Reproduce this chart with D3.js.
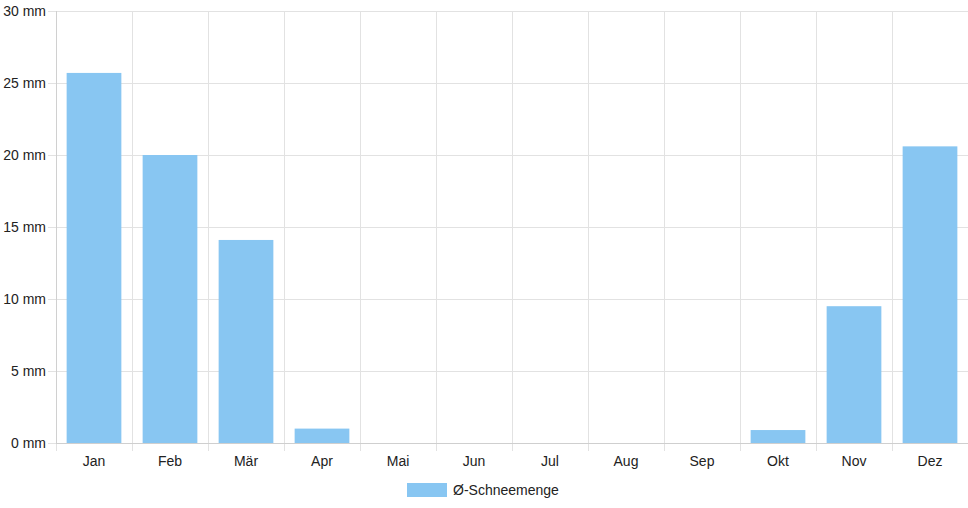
<!DOCTYPE html>
<html>
<head>
<meta charset="utf-8">
<script src="https://cdn.jsdelivr.net/npm/d3@7"></script>
<style>
  body { margin: 0; background: #fff; }
  svg { display: block; font-family: "Liberation Sans", Arial, sans-serif; }
</style>
</head>
<body>
<script>
// data
const months = ["Jan", "Feb", "Mär", "Apr", "Mai", "Jun", "Jul", "Aug", "Sep", "Okt", "Nov", "Dez"];
const snow = [25.7, 20.0, 14.1, 1.0, 0, 0, 0, 0, 0, 0.9, 9.5, 20.6];
const yTicks = [0, 5, 10, 15, 20, 25, 30];
const seriesName = "Ø-Schneemenge";

const width = 968, height = 508;
const margin = { top: 11, right: 0, bottom: 65, left: 56 };
const barColor = "#88c6f2";
const gridColor = "#e2e2e2";

const svg = d3.select("body").append("svg")
  .attr("width", width)
  .attr("height", height);

const x = d3.scaleBand()
  .domain(months)
  .range([margin.left, width - margin.right]);

const y = d3.scaleLinear()
  .domain([0, 30])
  .range([height - margin.bottom, margin.top]);

const x0 = margin.left, x1 = width - margin.right;
const yBottom = y(0);

// horizontal grid + left ticks
svg.append("g")
  .selectAll("line")
  .data(yTicks)
  .enter()
  .append("line")
  .attr("x1", x0 - 8)
  .attr("x2", x1)
  .attr("y1", d => Math.round(y(d)) + 0.5)
  .attr("y2", d => Math.round(y(d)) + 0.5)
  .attr("stroke", gridColor);

// vertical grid (band boundaries) + bottom ticks
const bounds = months.map(m => x(m)).concat([x1]);
svg.append("g")
  .selectAll("line")
  .data(bounds)
  .enter()
  .append("line")
  .attr("x1", d => Math.round(d) + 0.5)
  .attr("x2", d => Math.round(d) + 0.5)
  .attr("y1", margin.top)
  .attr("y2", yBottom + 8)
  .attr("stroke", gridColor);

// axis lines a bit darker
svg.append("line")
  .attr("x1", x0 + 0.5).attr("x2", x0 + 0.5)
  .attr("y1", margin.top).attr("y2", yBottom)
  .attr("stroke", "#d0d0d0");
svg.append("line")
  .attr("x1", x0).attr("x2", x1)
  .attr("y1", Math.round(yBottom) + 0.5).attr("y2", Math.round(yBottom) + 0.5)
  .attr("stroke", "#cfcfcf");

// bars
const barW = x.bandwidth() * 0.72;
svg.append("g")
  .selectAll("rect")
  .data(snow)
  .enter()
  .append("rect")
  .attr("x", (d, i) => x(months[i]) + (x.bandwidth() - barW) / 2)
  .attr("width", barW)
  .attr("y", d => y(d))
  .attr("height", d => yBottom - y(d))
  .attr("fill", barColor);

// y labels
svg.append("g")
  .selectAll("text")
  .data(yTicks)
  .enter()
  .append("text")
  .attr("x", x0 - 10)
  .attr("y", d => y(d))
  .attr("dy", "0.35em")
  .attr("text-anchor", "end")
  .style("font-size", "14px")
  .attr("fill", "#222")
  .text(d => d + " mm");

// x labels
svg.append("g")
  .selectAll("text")
  .data(months)
  .enter()
  .append("text")
  .attr("x", d => x(d) + x.bandwidth() / 2)
  .attr("y", yBottom + 23)
  .attr("text-anchor", "middle")
  .style("font-size", "14px")
  .attr("fill", "#222")
  .text(d => d);

// legend
svg.append("rect")
  .attr("x", 407)
  .attr("y", 483)
  .attr("width", 40)
  .attr("height", 14)
  .attr("fill", barColor);
svg.append("text")
  .attr("x", 453)
  .attr("y", 490)
  .attr("dy", "0.35em")
  .style("font-size", "14px")
  .attr("fill", "#222")
  .text(seriesName);
</script>
</body>
</html>
